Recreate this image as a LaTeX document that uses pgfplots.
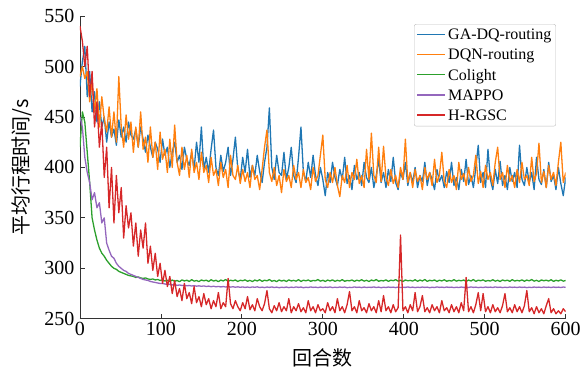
\documentclass[border=0pt]{standalone}
\usepackage{pgfplots}
\pgfplotsset{compat=1.18}
\usepackage{pgfplotstable}
\usepackage{fontspec}
\setmainfont{Liberation Serif}
\newfontfamily\cjk{Noto Sans CJK SC}
\definecolor{cb}{RGB}{31,119,180}
\definecolor{co}{RGB}{255,127,14}
\definecolor{cg}{RGB}{44,160,44}
\definecolor{cp}{RGB}{148,103,189}
\definecolor{cr}{RGB}{214,39,40}
\pgfplotstableread{
x ga dqn col ma hr
0 480 490 420 450 540
3 505 500 455 440 525
6 520 488 445 410 500
9 470 495 415 395 520
12 495 465 385 385 470
15 455 485 350 368 495
18 475 455 338 375 440
21 445 478 328 360 465
24 465 440 320 365 420
27 440 470 315 345 445
30 450 448 312 350 390
33 425 435 308 325 420
36 445 460 305 318 360
39 430 430 302 312 400
42 438 455 300 310 345
45 422 425 299 305 392
48 447 490 297 302 355
51 430 440 296 300 380
54 440 420 295 298 330
57 425 452 294 297 362
60 445 428 293 295 340
63 432 445 292.5 294 355
66 428 415 292 293 322
69 438 440 291 292 345
72 420 420 291.5 291 312
75 440 455 290.5 290 338
78 428 418 290 289 320
81 415 430 290.5 288.5 345
84 432 405 289.5 288 305
87 420 440 289 287 322
90 410 410 289.5 286.5 298
93 425 425 288.5 286 315
96 418 398 289 285.5 292
99 405 435 288 285 305
102 428 408 288.6 285 285
105 412 418 287.4 284.5 298
108 420 395 288.2 284 282
111 400 428 287 284.2 292
114 415 400 288.4 283.6 275
117 425 442 287.2 283.8 288
120 405 405 288 283.2 272
123 412 392 286.8 283.5 280
126 398 420 288.6 283 268
129 420 398 287.5 283.3 285
132 408 412 288.2 282.7 270
135 402 390 287 283 276
138 415 418 288.8 282.5 265
141 398 395 287.3 282.9 282
144 425 405 288 282.3 266
147 405 388 286.9 282.7 272
150 440 415 288.5 282.2 262
153 398 395 287.6 282.6 275
156 410 402 288.3 282 264
159 395 385 287 282.4 270
162 418 410 288.7 281.8 260
165 437 392 287.4 282.3 268
168 400 398 288.2 281.7 262
171 392 382 286.8 282.1 276
174 412 405 288.4 281.6 260
177 396 390 287.5 282 266
180 405 398 288.9 281.5 262
183 420 380 287.1 281.9 290
186 392 412 288.3 281.4 265
189 408 392 287.6 281.8 260
192 430 388 288.5 281.3 268
195 398 402 287 281.7 262
198 388 384 288.2 281.2 258
201 410 398 287.7 281.6 266
204 395 386 288.6 281.1 260
207 418 395 287.2 281.5 272
210 390 380 288.1 281 259
213 402 402 286.9 281.6 264
216 392 388 288.4 281.2 258
219 412 392 287.5 281.7 270
222 396 378 288.7 281 262
225 385 398 287.1 281.4 258
228 405 420 288.3 280.9 265
231 420 437 287.6 281.5 278
234 459 395 288.9 281.1 260
237 400 386 287.2 281.6 256
240 388 400 288 281 263
243 412 382 286.8 281.4 258
246 395 392 288.5 280.8 266
249 392 375 287.4 281.3 257
252 415 398 288.2 281 262
255 388 386 287 281.5 258
258 400 392 288.6 280.9 270
261 420 380 287.5 281.4 256
264 392 402 288.1 281 262
267 385 388 287.3 281.6 258
270 410 395 288.8 281.1 265
273 440 380 287 281.5 257
276 395 398 288.3 280.8 261
279 386 385 287.6 281.3 256
282 405 390 288.5 281 268
285 390 378 287.2 281.6 258
288 412 400 288 281.1 262
291 392 386 287.7 281.4 256
294 382 392 288.9 280.9 264
297 400 412 287.3 281.5 258
300 388 432 288.2 281 260
303 372 388 287 281.4 256
306 395 380 288.4 281.1 266
309 385 395 287.5 281.6 258
312 405 385 288.6 280.9 262
315 390 400 287.1 281.3 256
318 382 382 288.2 281 270
321 398 371 287.4 281.5 258
324 388 392 288.8 281.1 262
327 410 385 287.2 281.5 256
330 384 402 288 280.8 264
333 392 380 287.6 281.2 277
336 378 395 288.5 281 258
339 402 388 287.1 281.6 262
342 388 408 288.3 281.1 256
345 395 384 287.5 281.4 268
348 382 392 288.7 280.9 258
351 405 380 287.3 281.5 261
354 390 418 288.2 281 256
357 385 388 287 281.3 265
360 400 434 288.4 281.1 258
363 380 392 287.6 281.6 262
366 392 385 288.9 281 256
369 408 420 287.2 281.4 268
372 385 386 288 280.8 257
375 395 421 287.5 281.3 273
378 380 390 288.6 281 258
381 398 382 287.1 281.5 262
384 386 398 288.3 281.1 256
387 410 384 287.7 281.4 264
390 385 392 288.8 280.9 257
393 378 380 287.3 281.5 261
396 395 400 288.2 281 333
399 388 388 287 281.3 258
402 405 428 288.5 281.1 262
405 382 385 287.6 281.6 256
408 395 395 288.1 281 264
411 385 380 287.4 281.4 258
414 400 398 288.7 280.9 276
417 380 386 287.2 281.3 257
420 392 392 288.4 281 262
423 386 378 287.5 281.5 273
426 405 400 288.9 281.1 257
429 382 388 287.1 281.4 261
432 395 395 288.2 280.8 256
435 388 382 287.6 281.3 264
438 378 408 288.5 281 258
441 398 385 287 281.6 262
444 386 392 288.3 281.1 256
447 392 415 287.5 281.4 268
450 380 386 288.7 281 258
453 396 380 287.2 281.5 261
456 385 398 288 281.1 256
459 405 385 287.4 281.4 264
462 382 392 288.8 280.9 257
465 390 378 287.3 281.3 262
468 378 405 288.2 281 256
471 398 388 287.6 281.5 266
474 386 394 288.5 281.1 258
477 408 382 287 281.4 291
480 383 400 288.4 281 257
483 392 386 287.5 281.6 262
486 380 392 288.9 281.1 256
489 400 412 287.1 281.4 264
492 422 384 288.3 280.9 276
495 385 396 287.7 281.3 258
498 395 380 288.6 281 275
501 380 402 287.2 281.5 257
504 418 388 288 281.1 262
507 388 395 287.4 281.4 256
510 378 382 288.7 281 264
513 398 405 287.3 281.6 257
516 384 420 288.2 281.1 261
519 406 388 287 281.4 256
522 382 395 288.5 280.9 263
525 392 380 287.6 281.3 275
528 378 402 288.3 281 257
531 400 386 287.1 281.5 261
534 386 392 288.8 281.1 256
537 395 380 287.4 281.4 264
540 380 398 288.1 281 257
543 422 385 287.5 281.5 262
546 388 405 288.6 281.1 256
549 382 388 287.2 281.4 263
552 400 392 288.4 280.9 278
555 385 382 287.6 281.3 257
558 395 410 288.9 281 261
561 378 386 287.3 281.5 255
564 410 394 288.2 281.1 262
567 388 424 287 281.4 256
570 383 385 288.5 281 260
573 398 396 287.7 281.5 255
576 380 380 288.3 281.1 263
579 405 402 287.4 281.4 270
582 386 388 288.7 281 256
585 392 395 287.1 281.5 260
588 378 382 288.2 281.1 255
591 400 405 287.5 281.4 258
594 384 425 288.6 281 255
597 372 385 287.3 281.5 260
600 390 395 288 281.2 257
}\data
\begin{document}
\begin{tikzpicture}
\begin{axis}[
  name=ax,
  width=486pt, height=303pt, scale only axis,
  xmin=0, xmax=600, ymin=250, ymax=550,
  xtick={0,100,...,600}, ytick={250,300,...,550},
  axis x line*=bottom, axis y line*=left,
  axis line style={line width=0.8pt, color=black!80},
  tick style={line width=0.8pt, color=black!80},
  tick align=inside, major tick length=5pt,
  /pgf/number format/assume math mode=true,
  tick label style={font=\fontsize{20}{20}\selectfont},
  yticklabel style={xshift=-2pt},
  xlabel={\cjk 回合数},
  ylabel={\cjk 平均行程时间/s},
  label style={font=\fontsize{20}{24}\selectfont},
  xlabel style={yshift=-6pt},
  ylabel style={yshift=6pt},
  legend cell align=left,
  legend style={at={(rel axis cs:0.98,0.98)}, anchor=north east, yshift=-2pt,
    draw=black!25, rounded corners=2pt, font=\fontsize{16}{18}\selectfont,
    inner sep=2.5pt, row sep=4pt},
  legend image code/.code={\draw[#1, line width=1.5pt] (0pt,0.5pt) -- (28pt,0.5pt);},
  every axis plot/.append style={line width=1.3pt, line join=round},
]
\addplot[cb] table[x=x, y=ga] {\data};
\addlegendentry{GA-DQ-routing}
\addplot[co] table[x=x, y=dqn] {\data};
\addlegendentry{DQN-routing}
\addplot[cg] table[x=x, y=col] {\data};
\addlegendentry{Colight}
\addplot[cp] table[x=x, y=ma] {\data};
\addlegendentry{MAPPO}
\addplot[cr] table[x=x, y=hr] {\data};
\addlegendentry{H-RGSC}
\end{axis}
\path ([shift={(-80pt,-55pt)}]ax.south west) rectangle ([shift={(18pt,16pt)}]ax.north east);
\end{tikzpicture}
\end{document}
